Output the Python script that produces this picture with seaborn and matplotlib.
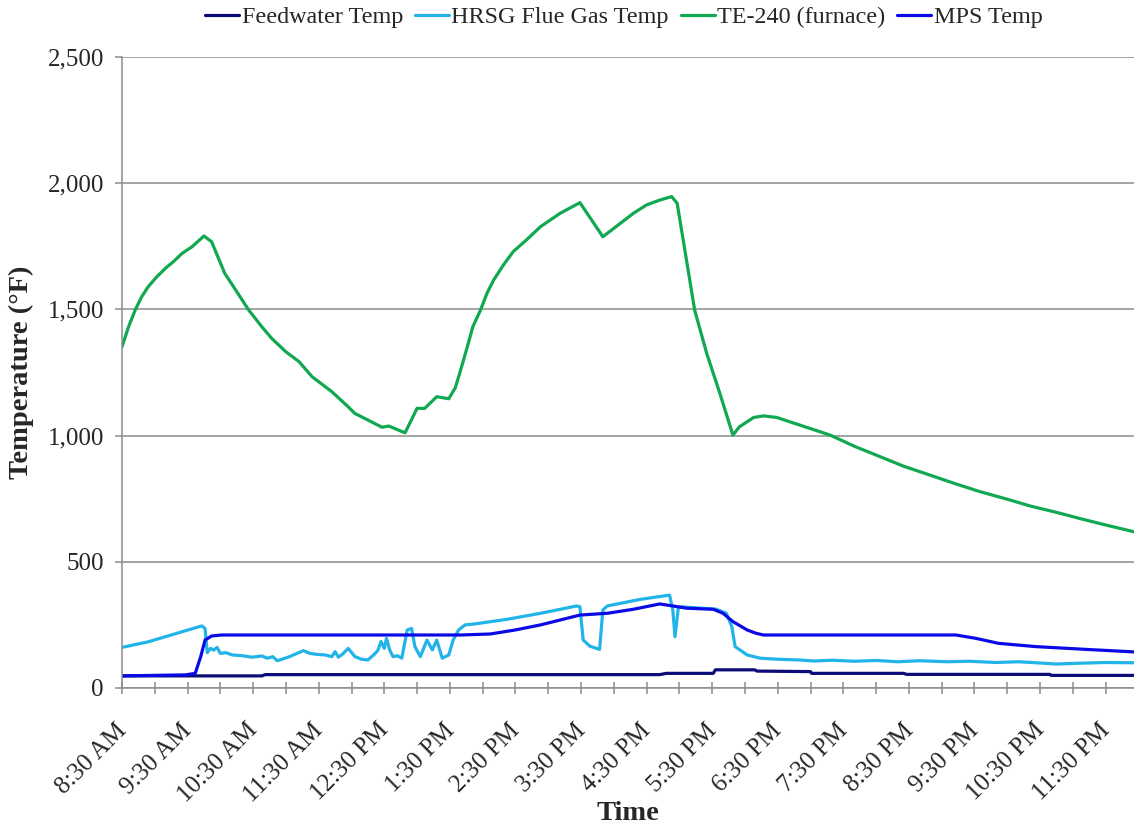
import matplotlib
matplotlib.use("Agg")
import matplotlib.pyplot as plt
import matplotlib.dates as mdates
from matplotlib.ticker import FuncFormatter
from matplotlib.transforms import ScaledTranslation
import seaborn as sns
import pandas as pd

# ---------------- data ----------------
series_names = ["Feedwater Temp", "HRSG Flue Gas Temp", "TE-240 (furnace)", "MPS Temp"]
series_colors = ["#0c0c78", "#22b4e8", "#10a850", "#0a0ae6"]

feed_times = ["08:30", "10:38", "10:41", "16:42", "16:48", "17:31", "17:33", "18:09", "18:11",
              "19:00", "19:01", "20:25", "20:28", "22:39", "22:40", "23:56"]
feed_vals = [48, 48, 53, 53, 58, 58, 72, 72, 67, 65, 58, 58, 54, 54, 50, 50]

hrsg_times = ["08:30", "08:54", "09:25", "09:43", "09:46", "09:48", "09:51", "09:54", "09:57", "10:00",
              "10:05", "10:11", "10:20", "10:29", "10:38", "10:43", "10:48", "10:52", "10:57", "11:02",
              "11:09", "11:16", "11:22", "11:29", "11:36", "11:42", "11:45", "11:48", "11:52", "11:57",
              "12:03", "12:09", "12:15", "12:20", "12:24", "12:27", "12:30", "12:32", "12:35", "12:38",
              "12:42", "12:46", "12:51", "12:55", "12:58", "13:03", "13:09", "13:14", "13:18", "13:23",
              "13:29", "13:33", "13:38", "13:44", "13:53", "14:22", "14:53", "15:26", "15:29", "15:32",
              "15:38", "15:47", "15:50", "15:54", "16:24", "16:51", "16:54", "16:56", "16:59", "17:01",
              "17:34", "17:43", "17:48", "17:51", "18:02", "18:14", "18:30", "18:50", "19:03", "19:20",
              "19:40", "20:00", "20:20", "20:40", "21:05", "21:25", "21:50", "22:10", "22:30", "22:45",
              "23:05", "23:30", "23:56"]
hrsg_vals = [161, 183, 223, 246, 236, 140, 157, 150, 161, 137,
             140, 131, 128, 122, 127, 118, 124, 108, 115, 122,
             135, 148, 137, 133, 131, 124, 144, 122, 135, 157,
             125, 114, 111, 130, 148, 184, 157, 197, 150, 124,
             128, 118, 230, 236, 164, 124, 190, 151, 190, 118,
             131, 190, 230, 250, 254, 272, 296, 325, 322, 190,
             166, 153, 309, 325, 351, 368, 309, 203, 316, 322,
             312, 296, 243, 164, 131, 118, 114, 111, 107, 110,
             106, 109, 104, 108, 104, 106, 101, 104, 99, 95,
             98, 101, 100]

te_times = ["08:30", "08:36", "08:42", "08:48", "08:54", "09:02", "09:10", "09:17", "09:25", "09:34",
            "09:45", "09:52", "10:04", "10:14", "10:26", "10:38", "10:47", "11:00", "11:12", "11:24",
            "11:42", "11:57", "12:03", "12:28", "12:34", "12:49", "13:00", "13:07", "13:18", "13:29",
            "13:35", "13:39", "13:46", "13:51", "13:58", "14:04", "14:10", "14:19", "14:28", "14:40",
            "14:53", "15:11", "15:29", "15:50", "16:06", "16:18", "16:30", "16:42", "16:53", "16:58",
            "17:01", "17:07", "17:14", "17:25", "17:37", "17:49", "17:55", "18:08", "18:17", "18:29",
            "18:50", "19:18", "19:40", "20:04", "20:25", "20:49", "21:12", "21:35", "22:00", "22:21",
            "22:45", "23:06", "23:30", "23:56"]
te_vals = [1352, 1431, 1497, 1550, 1590, 1630, 1664, 1689, 1722, 1748,
           1791, 1768, 1643, 1577, 1497, 1431, 1385, 1332, 1293, 1233,
           1174, 1114, 1088, 1033, 1038, 1011, 1108, 1108, 1154, 1146,
           1190, 1247, 1352, 1431, 1497, 1564, 1616, 1676, 1729, 1775,
           1828, 1881, 1923, 1788, 1841, 1881, 1914, 1933, 1947, 1920,
           1841, 1683, 1497, 1326, 1168, 1002, 1035, 1072, 1078, 1072,
           1042, 1002, 958, 916, 879, 844, 810, 778, 748, 721,
           696, 672, 646, 619]

mps_times = ["08:30", "09:28", "09:37", "09:42", "09:46", "09:52", "10:01", "13:40", "14:07", "14:30",
             "14:53", "15:29", "15:54", "16:18", "16:42", "16:54", "17:07", "17:31", "17:40", "17:49",
             "18:02", "18:10", "18:17", "21:13", "21:31", "21:52", "22:26", "23:12", "23:56"]
mps_vals = [48, 52, 58, 124, 190, 206, 210, 210, 214, 230,
            250, 289, 296, 312, 333, 325, 316, 312, 296, 263,
            230, 217, 210, 210, 197, 177, 164, 153, 143]

y_ticks = [0, 500, 1000, 1500, 2000, 2500]
x_label = "Time"
y_label = "Temperature (°F)"

# ---------------- build ----------------
def to_dt(ts):
    return pd.to_datetime(["2000-01-01 " + t for t in ts])

frames = []
for name, ts, vs in zip(series_names,
                        [feed_times, hrsg_times, te_times, mps_times],
                        [feed_vals, hrsg_vals, te_vals, mps_vals]):
    frames.append(pd.DataFrame({"time": to_dt(ts), "value": vs, "series": name}))

sns.set_style("white")
plt.rcParams["font.family"] = ["Liberation Serif", "DejaVu Serif"]

fig = plt.figure(figsize=(11.34, 8.34), dpi=100)
ax = fig.add_axes([122 / 1134, 146 / 834, 1 - 122 / 1134, (688 - 57) / 834])

for df, color in zip(frames, series_colors):
    sns.lineplot(data=df, x="time", y="value", ax=ax, color=color, lw=2.3,
                 label=df["series"].iloc[0], estimator=None, sort=False)

ax.set_xlim(pd.Timestamp("2000-01-01 08:30"), pd.Timestamp("2000-01-01 23:56"))
ax.set_ylim(0, 2500)
ax.set_yticks(y_ticks)
ax.yaxis.set_major_formatter(FuncFormatter(lambda v, p: f"{int(v):,}"))
ax.grid(axis="y", color="#8c8c8c", lw=1.1)
ax.grid(axis="x", visible=False)

ax.xaxis.set_major_locator(mdates.MinuteLocator(byminute=[30]))
ax.xaxis.set_minor_locator(mdates.MinuteLocator(byminute=[0]))

def fmt_time(v, p):
    d = mdates.num2date(v)
    h = d.hour % 12
    if h == 0:
        h = 12
    return f"{h}:{d.minute:02d} {'AM' if d.hour < 12 else 'PM'}"

ax.xaxis.set_major_formatter(FuncFormatter(fmt_time))

for s in ["top", "right"]:
    ax.spines[s].set_visible(False)
for s in ["left", "bottom"]:
    ax.spines[s].set_color("#8c8c8c")
    ax.spines[s].set_linewidth(1.1)

ax.tick_params(axis="x", which="both", direction="inout", length=8, width=1.1,
               color="#8c8c8c", bottom=True, labelsize=18, pad=24)
ax.tick_params(axis="y", which="both", direction="out", length=5, width=1.1,
               color="#8c8c8c", left=True, labelsize=18, pad=8)

offset = ScaledTranslation(1 / 100, 0, fig.dpi_scale_trans)
for lab in ax.get_xticklabels():
    lab.set_rotation(45)
    lab.set_ha("right")
    lab.set_va("center")
    lab.set_rotation_mode("anchor")
    lab.set_transform(lab.get_transform() + offset)

ax.set_xlabel(x_label, fontsize=20.5, fontweight="bold", labelpad=-4)
ax.set_ylabel(y_label, fontsize=20.5, fontweight="bold", labelpad=10)

ax.legend(loc="center", bbox_to_anchor=(624 / 1134, 1 - 17 / 834),
          bbox_transform=fig.transFigure, ncol=4, frameon=False, fontsize=17.4,
          handlelength=1.4, handletextpad=0.1, columnspacing=0.5, borderaxespad=0)

fig.savefig("out.png", dpi=100)
